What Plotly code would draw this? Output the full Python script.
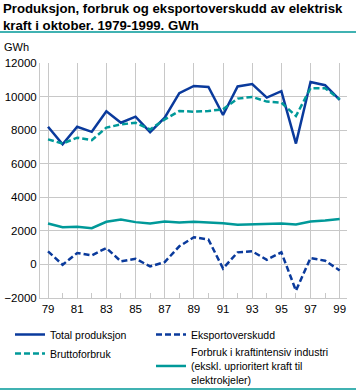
import plotly.graph_objects as go

years = list(range(1979, 2000))
total_produksjon = [8200, 7150, 8200, 7900, 9120, 8440, 8800, 7880, 8740, 10200,
                    10630, 10570, 8900, 10600, 10750, 9940, 10320, 7200, 10870, 10680, 9800]
bruttoforbruk = [7450, 7200, 7550, 7400, 8150, 8340, 8440, 8040, 8640, 9140,
                 9100, 9140, 9240, 9880, 9980, 9700, 9640, 8840, 10500, 10500, 9840]
kraftintensiv = [2440, 2220, 2240, 2160, 2540, 2680, 2520, 2440, 2560, 2500,
                 2540, 2520, 2460, 2360, 2400, 2420, 2440, 2380, 2560, 2620, 2700]
eksportoverskudd = [780, -20, 680, 540, 980, 180, 340, -120, 140, 1080,
                    1620, 1480, -240, 720, 780, 280, 720, -1560, 380, 220, -360]
tick_years = list(range(1979, 2000, 2))
tick_labels = [str(y)[2:] for y in tick_years]

BLUE = "#0a3a9c"
TEAL = "#009999"
FONT = "Liberation Sans"
W, H = 356, 391
L, R, T, B = 40, 9, 63, 93
PW, PH = W - L - R, H - T - B

fig = go.Figure()
fig.add_trace(go.Scatter(x=years, y=total_produksjon, mode="lines", name="Total produksjon",
                         line=dict(color=BLUE, width=2.5), legend="legend"))
fig.add_trace(go.Scatter(x=years, y=bruttoforbruk, mode="lines", name="Bruttoforbruk",
                         line=dict(color=TEAL, width=2.5, dash="6px,3px"), legend="legend"))
fig.add_trace(go.Scatter(x=years, y=eksportoverskudd, mode="lines", name="Eksportoverskudd",
                         line=dict(color=BLUE, width=2.5, dash="6px,3px"), legend="legend2"))
fig.add_trace(go.Scatter(x=years, y=kraftintensiv, mode="lines",
                         name="Forbruk i kraftintensiv industri<br>(ekskl. uprioritert kraft til<br>elektrokjeler)",
                         line=dict(color=TEAL, width=2.5), legend="legend2"))

fig.update_layout(
    width=W, height=H,
    margin=dict(l=L, r=R, t=T, b=B, autoexpand=False),
    paper_bgcolor="white", plot_bgcolor="white",
    font=dict(family=FONT, size=11, color="black"),
    showlegend=True,
    legend=dict(x=(10 - L) / PW, xanchor="left", y=1 - 320 / H, yanchor="top", yref="container",
                bgcolor="rgba(0,0,0,0)", font=dict(size=10.5), tracegroupgap=0,
                itemwidth=30),
    legend2=dict(x=(151 - L) / PW, xanchor="left", y=1 - 320 / H, yanchor="top", yref="container",
                 bgcolor="rgba(0,0,0,0)", font=dict(size=10.5), tracegroupgap=0,
                 itemwidth=30),
    xaxis=dict(range=[1978.45, 1999.5], tickvals=tick_years, ticktext=tick_labels,
               showgrid=True, gridcolor="#c8c8c8", gridwidth=1, automargin=False,
               showline=True, linecolor="#c8c8c8", ticks="", zeroline=False,
               minor=dict(dtick=1, tick0=1979, ticks="inside", ticklen=5, tickcolor="#c8c8c8", showgrid=False),
               tickfont=dict(size=11.5)),
    yaxis=dict(range=[-2000, 12000], dtick=2000, tickformat="d", showgrid=True, gridcolor="#c8c8c8", gridwidth=1,
               showline=True, linecolor="#c8c8c8", zeroline=False, ticks="", automargin=False,
               tickfont=dict(size=11.5)),
    shapes=[
        dict(type="line", xref="paper", yref="paper", x0=-L / PW, x1=1 + R / PW, y0=1 + 31 / PH, y1=1 + 31 / PH,
             line=dict(color=TEAL, width=1.5)),
        dict(type="line", xref="paper", yref="paper", x0=-L / PW, x1=1 + R / PW, y0=-91 / PH, y1=-91 / PH,
             line=dict(color=TEAL, width=1.5)),
    ],
    annotations=[
        dict(text="<b>Produksjon, forbruk og eksportoverskudd av elektrisk<br>kraft i oktober. 1979-1999. GWh</b>",
             xref="paper", yref="paper", x=(1 - L) / PW, y=1 + (T + 1) / PH, xanchor="left", yanchor="top",
             align="left", showarrow=False, font=dict(family=FONT, size=13.2, color="black")),
        dict(text="GWh", xref="paper", yref="paper", x=-38 / PW, y=1 + 8 / PH, xanchor="left", yanchor="bottom",
             showarrow=False, font=dict(size=11)),
    ],
)

fig.write_html("out.html", config={"displayModeBar": False},
               post_script="document.body.style.margin='0px';")
